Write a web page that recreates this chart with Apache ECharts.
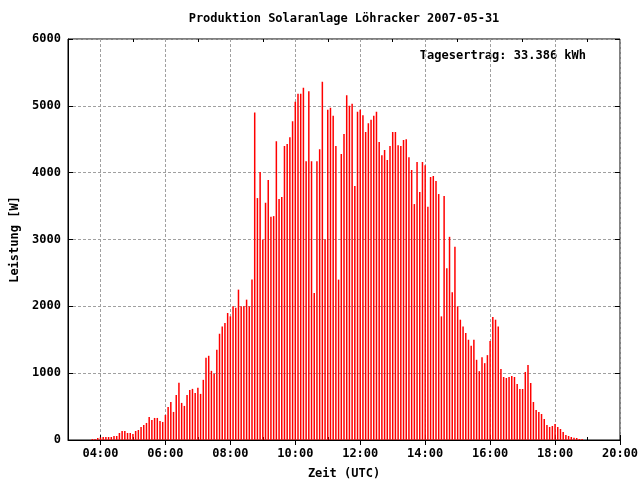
<!DOCTYPE html>
<html><head><meta charset="utf-8">
<script src="https://cdn.jsdelivr.net/npm/echarts@6/dist/echarts.min.js"></script>
<style>html,body{margin:0;padding:0;background:#fff}#c{width:640px;height:480px}</style>
</head><body><div id="c"></div>
<script>
// ---- data ----
const chartTitle = 'Produktion Solaranlage Löhracker 2007-05-31';
const yieldText = 'Tagesertrag: 33.386 kWh';
const xAxisName = 'Zeit (UTC)';
const yAxisName = 'Leistung [W]';
const startHour = 3.75;      // first sample 03:45 UTC
const stepMinutes = 5;       // one sample every 5 minutes
const power = [
  15, 15, 30, 40, 45, 45, 45, 45, 60, 60,
  105, 135, 135, 105, 105, 90, 135, 150, 195, 225,
  255, 345, 300, 330, 330, 285, 270, 375, 495, 570,
  420, 675, 855, 555, 510, 675, 750, 765, 705, 780,
  690, 900, 1230, 1260, 1035, 990, 1350, 1590, 1700, 1750,
  1900, 1850, 2000, 1980, 2250, 2000, 2000, 2100, 2000, 2400,
  4900, 3620, 4010, 3000, 3550, 3890, 3340, 3350, 4470, 3605,
  3635, 4400, 4430, 4530, 4770, 5060, 5180, 5180, 5270, 4170,
  5220, 4170, 2200, 4170, 4350, 5360, 3000, 4940, 4970, 4850,
  4400, 2400, 4280, 4580, 5160, 5000, 5030, 3800, 4910, 4940,
  4860, 4610, 4740, 4790, 4850, 4910, 4460, 4260, 4340, 4190,
  4400, 4610, 4610, 4410, 4400, 4490, 4500, 4230, 4040, 3530,
  4160, 3710, 4160, 4110, 3490, 3935, 3950, 3875, 3680, 1850,
  3650, 2570, 3040, 2210, 2890, 2000, 1800, 1700, 1600, 1500,
  1410, 1500, 1200, 1030, 1240, 1150, 1270, 1480, 1840, 1800,
  1700, 1063, 943, 928, 943, 958, 943, 838, 763, 763,
  1018, 1123, 853, 569, 449, 419, 389, 314, 225, 195,
  210, 240, 195, 165, 120, 75, 60, 45, 35, 30,
  15, 15
];
const xMin = 3, xMax = 20;
const xMajorHours = [4, 6, 8, 10, 12, 14, 16, 18, 20];
const xMinorHours = [3, 5, 7, 9, 11, 13, 15, 17, 19];
const yMin = 0, yMax = 6000, yStep = 1000;

// ---- chart ----
const seriesData = power.map((v, i) => [startHour + i * stepMinutes / 60, v]);
const font = 'DejaVu Sans Mono';
const txt = { fontFamily: font, fontWeight: 'bold', fontSize: 12, color: '#000' };
const fmtHour = h => (h < 10 ? '0' : '') + h + ':00';

const chart = echarts.init(document.getElementById('c'), null, { renderer: 'canvas' });
chart.setOption({
  animation: false,
  backgroundColor: '#fff',
  grid: { left: 68, right: 20, top: 39, bottom: 40, show: true, borderColor: '#000', borderWidth: 1, backgroundColor: 'transparent', containLabel: false, outerBoundsMode: 'none' },
  xAxis: [{
    type: 'value', min: xMin, max: xMax, position: 'bottom',
    name: xAxisName, nameLocation: 'middle', nameGap: 28, nameTextStyle: txt,
    axisLine: { show: true, lineStyle: { color: '#000', width: 1 } },
    axisTick: { show: true, inside: true, length: 5, customValues: xMajorHours, lineStyle: { color: '#000' } },
    axisLabel: { show: true, customValues: xMajorHours, margin: 8, formatter: v => fmtHour(v), ...txt },
    splitLine: { show: true, lineStyle: { color: '#a0a0a0', type: [3, 2], width: 1 } }
  }, {
    type: 'value', min: xMin, max: xMax, position: 'top',
    axisLine: { show: false },
    axisTick: { show: true, inside: true, length: 5, customValues: xMajorHours, lineStyle: { color: '#000' } },
    axisLabel: { show: false }, splitLine: { show: false }
  }, {
    type: 'value', min: xMin, max: xMax, position: 'bottom',
    axisLine: { show: false },
    axisTick: { show: true, inside: true, length: 3, customValues: xMinorHours, lineStyle: { color: '#000' } },
    axisLabel: { show: false }, splitLine: { show: false }
  }, {
    type: 'value', min: xMin, max: xMax, position: 'top',
    axisLine: { show: false },
    axisTick: { show: true, inside: true, length: 3, customValues: xMinorHours, lineStyle: { color: '#000' } },
    axisLabel: { show: false }, splitLine: { show: false }
  }],
  yAxis: [{
    type: 'value', min: yMin, max: yMax, interval: yStep, position: 'left',
    name: yAxisName, nameLocation: 'middle', nameGap: 47, nameTextStyle: txt,
    axisLine: { show: true, lineStyle: { color: '#000', width: 1 } },
    axisTick: { show: true, inside: true, length: 5, lineStyle: { color: '#000' } },
    axisLabel: { show: true, margin: 7, formatter: v => String(v), ...txt },
    splitLine: { show: true, lineStyle: { color: '#a0a0a0', type: [3, 2], width: 1 } }
  }, {
    type: 'value', min: yMin, max: yMax, interval: yStep, position: 'right',
    axisLine: { show: false },
    axisTick: { show: true, inside: true, length: 5, lineStyle: { color: '#000' } },
    axisLabel: { show: false }, splitLine: { show: false }
  }],
  graphic: [
    { type: 'text', x: 344, y: 19, style: { text: chartTitle, textAlign: 'center', textVerticalAlign: 'middle', font: 'bold 12px "DejaVu Sans Mono"', fill: '#000' } },
    { type: 'text', x: 586, y: 56, style: { text: yieldText, textAlign: 'right', textVerticalAlign: 'middle', font: 'bold 12px "DejaVu Sans Mono"', fill: '#000' } }
  ],
  series: [{
    type: 'bar', xAxisIndex: 0, yAxisIndex: 0,
    data: seriesData, barWidth: 1.5,
    itemStyle: { color: '#ff0000' },
    z: 1
  }]
});
</script>
</body></html>
